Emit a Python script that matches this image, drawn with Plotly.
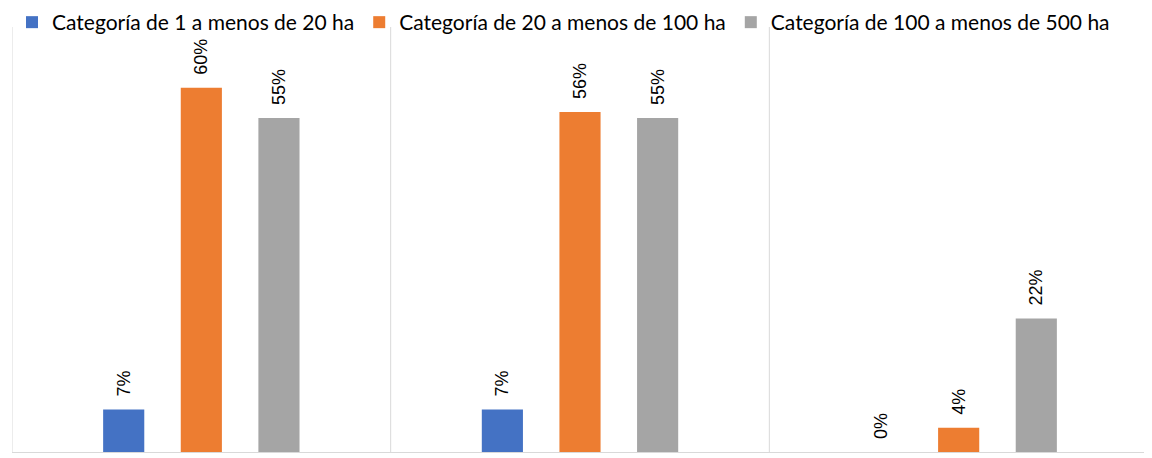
import plotly.graph_objects as go

groups = ["Grupo 1", "Grupo 2", "Grupo 3"]
series_names = ["Categoría de 1 a menos de 20 ha",
                "Categoría de 20 a menos de 100 ha",
                "Categoría de 100 a menos de 500 ha"]
values_1_20 = [7, 7, 0]
values_20_100 = [60, 56, 4]
values_100_500 = [55, 55, 22]
colors = ["#4472C4", "#ED7D31", "#A5A5A5"]

fig = go.Figure()
for name, vals, col in zip(series_names, [values_1_20, values_20_100, values_100_500], colors):
    fig.add_trace(go.Bar(
        x=groups, y=vals, name=name, marker=dict(color=col, line=dict(width=0)),
        # leading non-breaking spaces leave the gap seen between bar top and label
        text=[f"\u00a0\u00a0{v}%" for v in vals], textposition="outside", textangle=-90,
        constraintext="none",
        textfont=dict(family="Liberation Sans, Arial", size=18, color="#000000"),
        cliponaxis=False,
    ))

# category separators
for xv in [-0.5, 0.5, 1.5, 2.5]:
    fig.add_shape(type="line", xref="x", yref="paper", x0=xv, x1=xv, y0=0, y1=1,
                  line=dict(color="#D9D9D9", width=1), layer="below")

# page body has an 8px default margin, so the figure is sized to the visible area
fig.update_layout(
    width=1144, height=450,
    margin=dict(l=4, r=4, t=19, b=6, autoexpand=False),
    barmode="group", bargap=0.385, bargroupgap=0.47,
    plot_bgcolor="white", paper_bgcolor="white",
    legend=dict(orientation="h", x=0.0, y=1.0588, xanchor="left", yanchor="top",
                bgcolor="rgba(0,0,0,0)",
                font=dict(family="Lato, Calibri, sans-serif", size=21, color="#000000"),
                itemwidth=30, traceorder="normal"),
    xaxis=dict(range=[-0.5, 2.5], showticklabels=False, ticks="", showgrid=False,
               showline=True, linecolor="#D9D9D9", linewidth=1, zeroline=False),
    yaxis=dict(range=[0, 70], showticklabels=False, showgrid=False, zeroline=False,
               ticks=""),
    showlegend=True,
)

fig.write_html("out.html")
